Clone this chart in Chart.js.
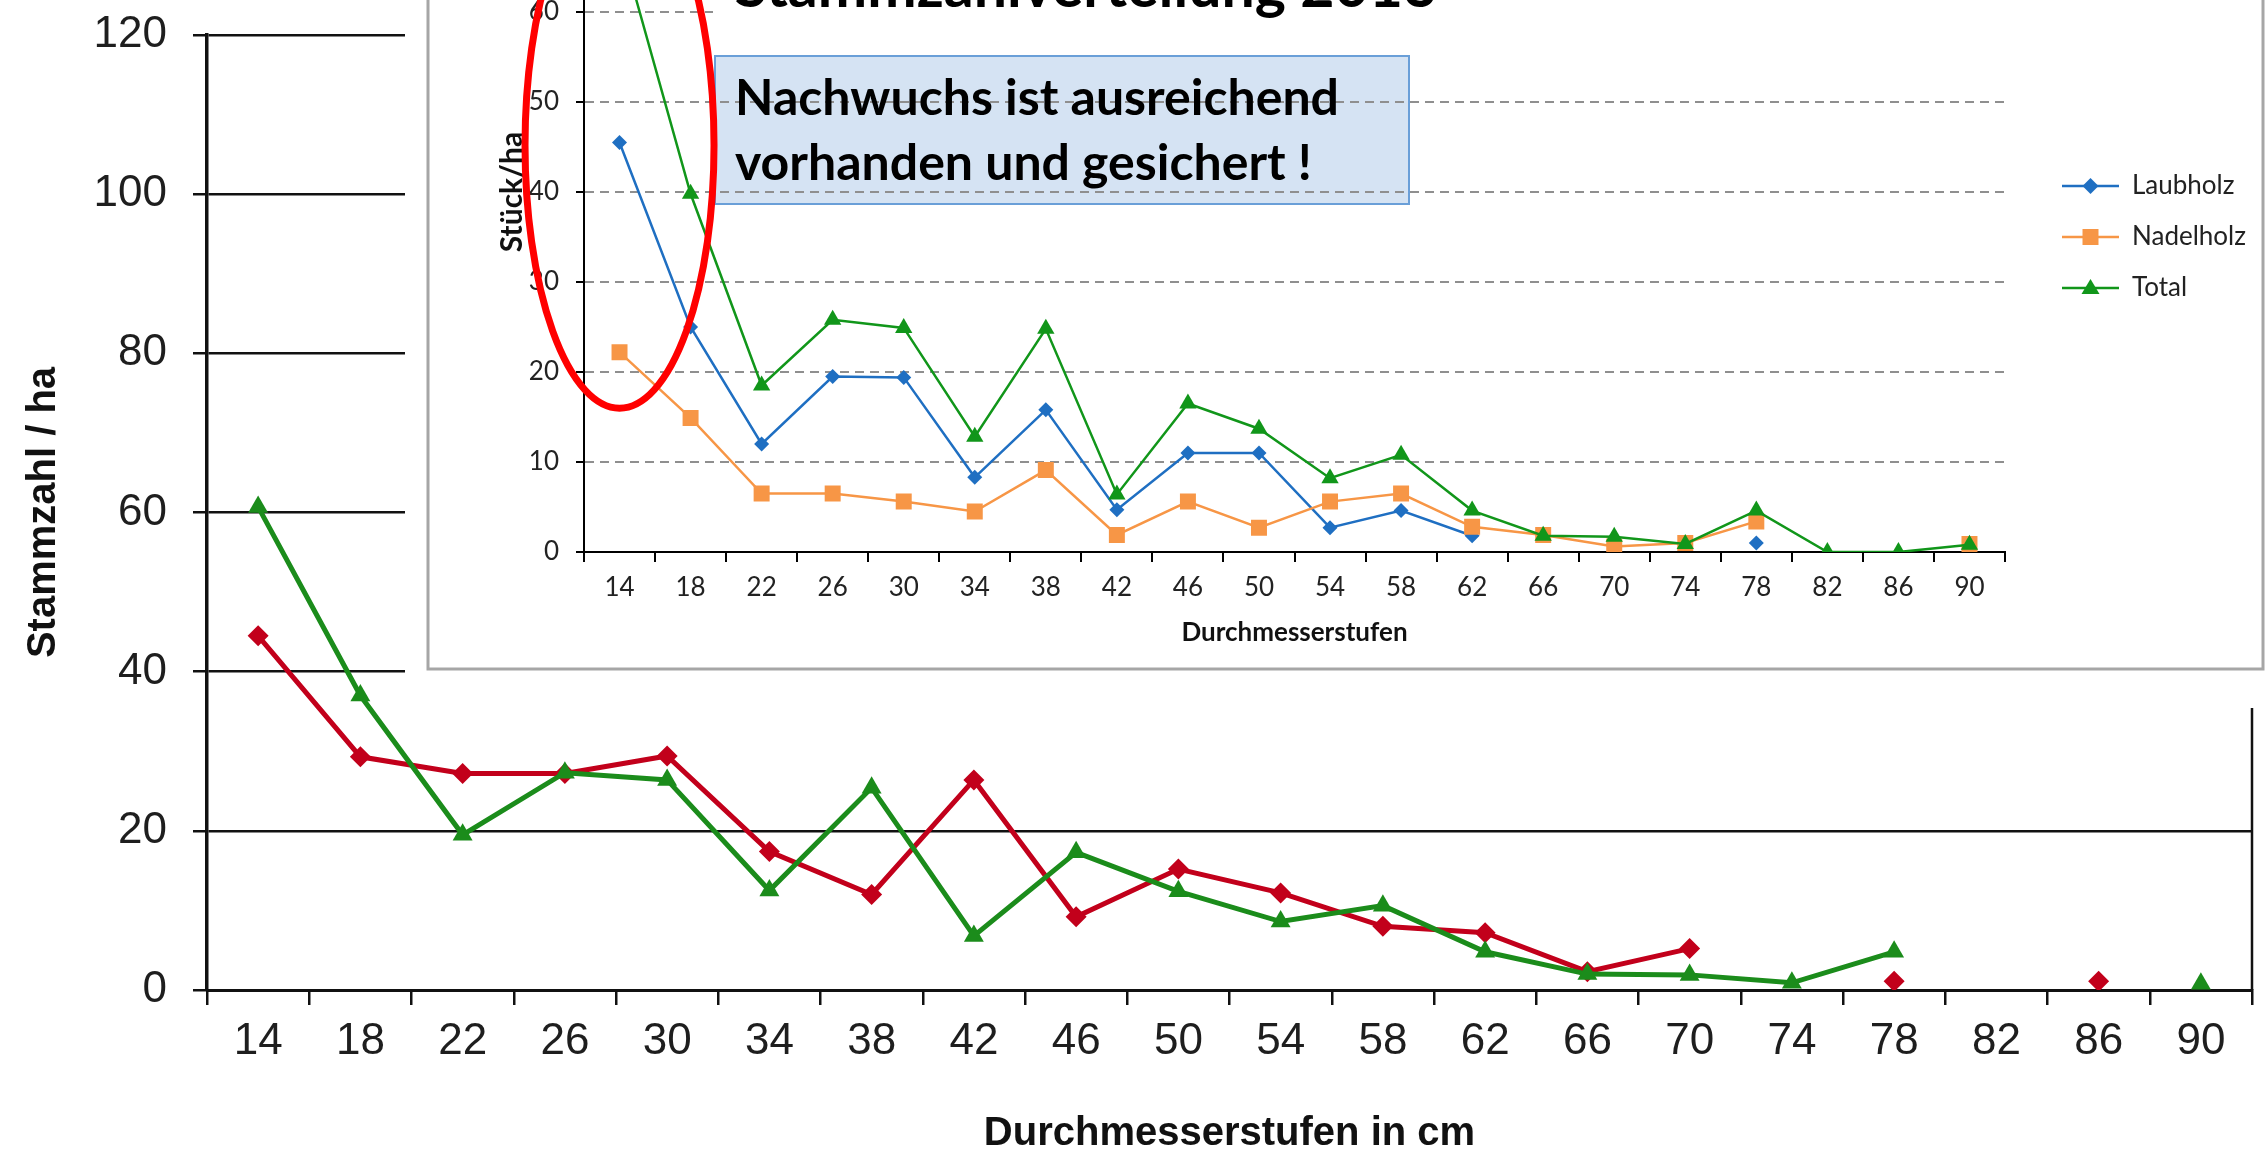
<!DOCTYPE html>
<html><head><meta charset="utf-8">
<script src="https://cdn.jsdelivr.net/npm/chart.js@4.4.1/dist/chart.umd.min.js"></script>
<style>
html,body{margin:0;padding:0;background:#fff;overflow:hidden;}
#stage{position:relative;width:2266px;height:1160px;overflow:hidden;background:#fff;}
#main{position:absolute;left:0;top:0;}
#inset{position:absolute;left:405px;top:-200px;background:#fff;}
</style></head><body>
<div id="stage">
<canvas id="main" width="2266" height="1160"></canvas>
<canvas id="inset" width="1861" height="908"></canvas>
</div>
<script>
// ---------- data ----------
const categories = ['14','18','22','26','30','34','38','42','46','50','54','58','62','66','70','74','78','82','86','90'];
// background chart (Stammzahl / ha)
const mainRed   = [44.5, 29.3, 27.2, 27.2, 29.4, 17.4, 12.0, 26.4, 9.2, 15.2, 12.2, 8.0, 7.2, 2.3, 5.2, null, 1.1, null, 1.1, null];
const mainGreen = [60.7, 37.0, 19.5, 27.3, 26.4, 12.5, 25.4, 6.8, 17.3, 12.4, 8.6, 10.6, 4.8, 2.0, 1.9, 0.9, 4.8, null, null, 0.8];
// inset chart (Stück/ha)
const insetLaubholz  = [45.5, 25.0, 12.0, 19.5, 19.4, 8.3, 15.8, 4.7, 11.0, 11.0, 2.7, 4.6, 1.8, null, null, null, 1.0, null, null, null];
const insetNadelholz = [22.2, 14.9, 6.5, 6.5, 5.6, 4.5, 9.1, 1.9, 5.6, 2.7, 5.6, 6.5, 2.8, 1.9, 0.6, 1.0, 3.4, null, null, 0.9];
const insetTotal     = [68.0, 39.8, 18.5, 25.8, 24.9, 12.8, 24.8, 6.4, 16.5, 13.7, 8.2, 10.8, 4.6, 1.8, 1.7, 0.9, 4.6, 0, 0, 0.8];
const seriesNames = ['Laubholz', 'Nadelholz', 'Total'];
const mainSeriesNames = ['Reihe rot', 'Reihe grün'];
const mainTitleX = 'Durchmesserstufen in cm';
const mainTitleY = 'Stammzahl / ha';
const insetTitle = 'Stammzahlverteilung 2013';
const insetTitleX = 'Durchmesserstufen';
const insetTitleY = 'Stück/ha';
const noteLines = ['Nachwuchs ist ausreichend', 'vorhanden und gesichert !'];

// ---------- background chart ----------
const mainDeco = {
  id: 'mainDeco',
  afterDraw(chart) {
    const {ctx, chartArea: a} = chart;
    ctx.save();
    ctx.strokeStyle = '#111'; ctx.lineWidth = 2.5;
    ctx.beginPath(); ctx.moveTo(a.right, a.top); ctx.lineTo(a.right, a.bottom); ctx.stroke();
    ctx.restore();
  }
};

new Chart(document.getElementById('main'), {
  type: 'line',
  data: {
    labels: categories,
    datasets: [
      {label: mainSeriesNames[0], data: mainRed, borderColor: '#c2001b', backgroundColor: '#c2001b',
       borderWidth: 5, pointStyle: 'rectRot', pointRadius: 10.5, pointBorderWidth: 0, order: 1, tension: 0},
      {label: mainSeriesNames[1], data: mainGreen, borderColor: '#1b8c1b', backgroundColor: '#1b8c1b',
       borderWidth: 5, pointStyle: 'triangle', pointRadius: 11.5, pointBorderWidth: 0, order: 0, tension: 0}
    ]
  },
  options: {
    responsive: false, animation: false, devicePixelRatio: 1,
    layout: {padding: {left: 0, right: 14, top: 35, bottom: 0}},
    plugins: {legend: {display: false}, tooltip: {enabled: false}},
    scales: {
      x: {
        type: 'category', offset: true,
        grid: {offset: true, drawOnChartArea: false, tickLength: 15, color: '#111', lineWidth: 2.5},
        border: {display: true, color: '#111', width: 3},
        ticks: {autoSkip: false, maxRotation: 0, padding: 10, color: '#1e1e1e',
                font: {family: 'Liberation Sans', size: 44}},
        title: {display: true, text: mainTitleX, color: '#111', padding: {top: 0, bottom: 2},
                font: {family: 'Liberation Sans', size: 40, weight: 'bold'}},
        afterFit(s) { s.height = 170; }
      },
      y: {
        min: 0, max: 120,
        ticks: {stepSize: 20, padding: 26, color: '#1e1e1e', font: {family: 'Liberation Sans', size: 44}},
        grid: {color: '#111', lineWidth: 2.5, tickLength: 14},
        border: {display: true, color: '#111', width: 3.5},
        title: {display: true, text: mainTitleY, color: '#111', padding: {top: 20, bottom: 0},
                font: {family: 'Liberation Sans', size: 40, weight: 'bold'}},
        afterFit(s) { s.width = 207; s.paddingTop = 0; s.paddingBottom = 0; }
      }
    }
  },
  plugins: [mainDeco]
});

// ---------- inset chart ----------
function legendGlyph(color, style) {
  const c = document.createElement('canvas'); c.width = 89; c.height = 26;
  const g = c.getContext('2d');
  g.strokeStyle = color; g.lineWidth = 2.5;
  g.beginPath(); g.moveTo(32, 13); g.lineTo(89, 13); g.stroke();
  g.fillStyle = color;
  const cx = 60.5, cy = 13;
  g.beginPath();
  if (style === 'rectRot') { g.moveTo(cx, cy - 8); g.lineTo(cx + 8, cy); g.lineTo(cx, cy + 8); g.lineTo(cx - 8, cy); }
  else if (style === 'rect') { g.rect(cx - 8, cy - 8, 16, 16); }
  else { g.moveTo(cx, cy - 9); g.lineTo(cx + 9, cy + 6); g.lineTo(cx - 9, cy + 6); }
  g.closePath(); g.fill();
  return c;
}
const colLaub = '#1f6fc2', colNadel = '#f79646', colTotal = '#11961a';
const legendImgs = [legendGlyph(colLaub, 'rectRot'), legendGlyph(colNadel, 'rect'), legendGlyph(colTotal, 'triangle')];

const mctx = document.createElement('canvas').getContext('2d');
mctx.font = '26px Lato';
const legendTextW = Math.max(...seriesNames.map(s => mctx.measureText(s).width));
const insetPadRight = Math.max(0, 1861 - 1610 - (25 + 89 + 13 + legendTextW));

const insetDeco = {
  id: 'insetDeco',
  beforeDraw(chart) {
    const ctx = chart.ctx;
    ctx.save();
    ctx.fillStyle = '#d5e3f3'; ctx.fillRect(310, 256, 694, 148);
    ctx.strokeStyle = '#6a9fd8'; ctx.lineWidth = 2; ctx.strokeRect(310, 256, 694, 148);
    ctx.restore();
  },
  afterDraw(chart) {
    const ctx = chart.ctx;
    const xs = chart.scales.x, ys = chart.scales.y;
    ctx.save();
    // title area (white background)
    ctx.fillStyle = '#fff'; ctx.fillRect(308, 0, 1310, 233);
    ctx.fillStyle = '#000'; ctx.textBaseline = 'alphabetic'; ctx.textAlign = 'center';
    ctx.font = 'bold 59px Lato';
    ctx.fillText(insetTitle, 681, 207);
    // note text
    ctx.textAlign = 'left'; ctx.font = 'bold 50px Lato';
    ctx.fillText(noteLines[0], 330, 315);
    ctx.fillText(noteLines[1], 330, 380);
    // red ellipse around the smallest class
    const ex = xs.getPixelForValue(0), ey = ys.getPixelForValue(45.2);
    ctx.strokeStyle = '#ff0000'; ctx.lineWidth = 7;
    ctx.beginPath(); ctx.ellipse(ex, ey, 94.5, 263, 0, 0, Math.PI * 2); ctx.stroke();
    // picture frame
    ctx.strokeStyle = '#a6a6a6'; ctx.lineWidth = 3; ctx.strokeRect(23, -10, 1835, 879);
    ctx.restore();
  }
};

new Chart(document.getElementById('inset'), {
  type: 'line',
  data: {
    labels: categories,
    datasets: [
      {label: seriesNames[0], data: insetLaubholz, borderColor: colLaub, backgroundColor: colLaub,
       borderWidth: 2.5, pointStyle: 'rectRot', pointRadius: 7.5, pointBorderWidth: 0, order: 2, tension: 0},
      {label: seriesNames[1], data: insetNadelholz, borderColor: colNadel, backgroundColor: colNadel,
       borderWidth: 2.5, pointStyle: 'rect', pointRadius: 11.3, pointBorderWidth: 0, order: 1, tension: 0},
      {label: seriesNames[2], data: insetTotal, borderColor: colTotal, backgroundColor: colTotal,
       borderWidth: 2.5, pointStyle: 'triangle', pointRadius: 10, pointBorderWidth: 0, order: 0, tension: 0}
    ]
  },
  options: {
    responsive: false, animation: false, devicePixelRatio: 1,
    layout: {padding: {left: 0, right: insetPadRight, top: 32, bottom: 0}},
    plugins: {
      tooltip: {enabled: false},
      legend: {
        position: 'right', fullSize: false, align: 'center',
        title: {display: true, text: ' ', font: {size: 10}, padding: {top: 0, bottom: 78}},
        labels: {
          usePointStyle: true, pointStyleWidth: 89, padding: 25, color: '#222',
          font: {family: 'Lato', size: 26},
          generateLabels(chart) {
            return chart.data.datasets.map((ds, i) => ({
              text: ds.label, datasetIndex: i, pointStyle: legendImgs[i],
              fillStyle: ds.borderColor, strokeStyle: ds.borderColor, lineWidth: 0, hidden: false, fontColor: '#222'
            }));
          }
        }
      }
    },
    scales: {
      x: {
        type: 'category', offset: true,
        grid: {offset: true, drawOnChartArea: false, tickLength: 10, color: '#000', lineWidth: 2},
        border: {display: true, color: '#000', width: 2},
        ticks: {autoSkip: false, maxRotation: 0, padding: 10, color: '#222', font: {family: 'Lato', size: 26}},
        title: {display: true, text: insetTitleX, color: '#111', padding: {top: 0, bottom: 60},
                font: {family: 'Lato', size: 26, weight: 'bold'}},
        afterFit(s) { s.height = 156; }
      },
      y: {
        min: 0, max: 80,
        ticks: {stepSize: 10, padding: 17, color: '#222', font: {family: 'Lato', size: 26}},
        grid: {color: c => (c.tick && c.tick.value === 0) ? 'rgba(0,0,0,0)' : '#8f8f8f',
               lineWidth: 2, tickLength: 8, tickColor: '#000', tickBorderDash: []},
        border: {display: true, color: '#000', width: 2, dash: [9, 6]},
        title: {display: true, text: insetTitleY, color: '#111', padding: {top: 89, bottom: 0},
                font: {family: 'Lato', size: 30, weight: 'bold'}},
        afterFit(s) { s.width = 179; s.paddingTop = 0; s.paddingBottom = 0; }
      }
    }
  },
  plugins: [insetDeco]
});
</script>
</body></html>
